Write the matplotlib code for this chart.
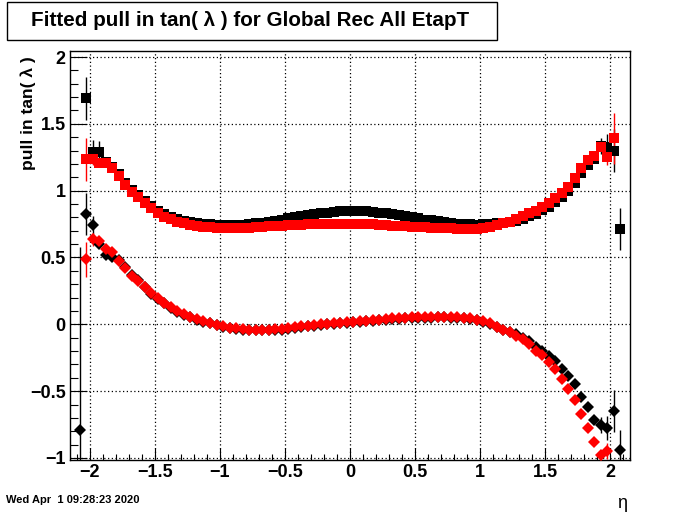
import numpy as np
import matplotlib
matplotlib.use('Agg')
from matplotlib import pyplot as plt
from matplotlib.patches import Rectangle
from matplotlib.ticker import MultipleLocator, FuncFormatter

plt.rcParams['font.family'] = ['Liberation Sans', 'DejaVu Sans']

nan = float('nan')

# 84 eta bins of width 0.05 between -2.1 and 2.1
eta_edges = np.linspace(-2.1, 2.1, 85)
eta = 0.5 * (eta_edges[1:] + eta_edges[:-1])

# upper band : black squares / red squares
sq_black = [nan, 1.69, 1.29, 1.29, 1.215, 1.178, 1.125, 1.06, 1.003, 0.966,
            0.921, 0.884, 0.848, 0.823, 0.803, 0.786, 0.775, 0.764, 0.758, 0.752,
            0.748, 0.745, 0.743, 0.743, 0.744, 0.746, 0.750, 0.755, 0.761, 0.768,
            0.776, 0.784, 0.792, 0.800, 0.808, 0.816, 0.823, 0.830, 0.836, 0.841,
            0.845, 0.848, 0.849, 0.848, 0.846, 0.842, 0.836, 0.830, 0.823, 0.816,
            0.808, 0.800, 0.792, 0.784, 0.777, 0.770, 0.763, 0.757, 0.752, 0.749,
            0.747, 0.746, 0.748, 0.752, 0.756, 0.760, 0.767, 0.775, 0.790, 0.808,
            0.828, 0.852, 0.880, 0.915, 0.952, 1.000, 1.060, 1.130, 1.195, 1.235,
            1.333, 1.326, 1.30, 0.713]
sq_red = [nan, 1.234, 1.234, 1.204, 1.204, 1.167, 1.109, 1.042, 0.987, 0.950,
          0.905, 0.868, 0.830, 0.805, 0.785, 0.767, 0.755, 0.743, 0.738, 0.730,
          0.727, 0.724, 0.722, 0.721, 0.721, 0.722, 0.724, 0.726, 0.729, 0.732,
          0.735, 0.738, 0.741, 0.743, 0.745, 0.747, 0.749, 0.751, 0.752, 0.753,
          0.754, 0.754, 0.753, 0.752, 0.750, 0.748, 0.745, 0.742, 0.739, 0.736,
          0.734, 0.731, 0.728, 0.726, 0.724, 0.722, 0.720, 0.718, 0.716, 0.715,
          0.715, 0.716, 0.718, 0.730, 0.743, 0.755, 0.767, 0.788, 0.810, 0.830,
          0.850, 0.875, 0.905, 0.942, 0.980, 1.029, 1.092, 1.167, 1.229, 1.261,
          1.328, 1.249, 1.391, nan]

# lower band : black diamonds / red diamonds
dm_black = [-0.79, 0.825, 0.743, 0.60, 0.522, 0.50, 0.478, 0.43, 0.368, 0.328,
            0.278, 0.230, 0.191, 0.157, 0.122, 0.094, 0.070, 0.052, 0.032, 0.020,
            0.007, -0.008, -0.020, -0.029, -0.036, -0.041, -0.044, -0.046, -0.046, -0.045,
            -0.043, -0.039, -0.033, -0.027, -0.021, -0.015, -0.010, -0.005, -0.001, 0.003,
            0.007, 0.011, 0.015, 0.019, 0.023, 0.027, 0.031, 0.035, 0.039, 0.042,
            0.045, 0.047, 0.049, 0.050, 0.051, 0.052, 0.052, 0.051, 0.049, 0.045,
            0.039, 0.031, 0.019, 0.002, -0.022, -0.04, -0.058, -0.075, -0.10, -0.122,
            -0.167, -0.20, -0.237, -0.274, -0.332, -0.387, -0.446, -0.541, -0.616, -0.716,
            -0.753, -0.778, -0.648, -0.94]
dm_red = [nan, 0.486, 0.636, 0.625, 0.563, 0.538, 0.476, 0.421, 0.361, 0.324,
          0.277, 0.232, 0.194, 0.162, 0.127, 0.099, 0.075, 0.057, 0.037, 0.025,
          0.012, -0.003, -0.015, -0.024, -0.031, -0.036, -0.039, -0.041, -0.041, -0.040,
          -0.038, -0.034, -0.028, -0.022, -0.016, -0.010, -0.005, 0.000, 0.004, 0.008,
          0.012, 0.016, 0.020, 0.024, 0.028, 0.032, 0.036, 0.040, 0.044, 0.047,
          0.050, 0.052, 0.054, 0.055, 0.056, 0.057, 0.057, 0.056, 0.054, 0.050,
          0.044, 0.036, 0.024, 0.007, -0.020, -0.043, -0.060, -0.087, -0.110, -0.150,
          -0.197, -0.232, -0.284, -0.337, -0.411, -0.486, -0.566, -0.673, -0.773, -0.883,
          -0.978, -0.945, nan, nan]

# visible error bars (bin index, half length)
sq_black_err_idx = [1, 2, 3, 80, 81, 82, 83]
sq_black_err = [0.16, 0.09, 0.08, 0.06, 0.10, 0.16, 0.16]
sq_red_err_idx = [1, 2, 81, 82]
sq_red_err = [0.16, 0.04, 0.056, 0.19]
dm_black_err_idx = [0, 1, 2, 80, 81, 82, 83]
dm_black_err = [1.37, 0.16, 0.07, 0.06, 0.09, 0.16, 0.15]
dm_red_err_idx = [1, 2, 81]
dm_red_err = [0.13, 0.05, 0.06]

title = u'Fitted pull in tan( \u03bb ) for Global Rec All EtapT'
ytitle = u'pull in tan( \u03bb )'
xtitle = u'\u03b7'
datestamp = 'Wed Apr  1 09:28:23 2020'

fig = plt.figure(figsize=(7, 5.12), dpi=100)
ax = fig.add_axes([0.1, 0.1016, 0.8, 0.7988])

def draw(vals, idx, errs, color, marker, ms):
    vals = np.array(vals, dtype=float)
    ax.errorbar(eta[idx], vals[idx], yerr=errs, fmt='none', ecolor=color,
                elinewidth=1.0, capsize=0, zorder=3)
    ax.plot(eta, vals, linestyle='none', marker=marker, color=color,
            markersize=ms, markeredgewidth=0, zorder=4)

draw(sq_black, sq_black_err_idx, sq_black_err, 'black', 's', 6.6)
draw(dm_black, dm_black_err_idx, dm_black_err, 'black', 'D', 6.2)
draw(sq_red, sq_red_err_idx, sq_red_err, 'red', 's', 6.6)
draw(dm_red, dm_red_err_idx, dm_red_err, 'red', 'D', 6.2)

def fmt(v, pos):
    s = '%g' % round(v, 3)
    return s.replace('-', u'\u2212')

ax.set_xlim(-2.15, 2.15)
ax.set_ylim(-1.015, 2.045)
ax.xaxis.set_major_locator(MultipleLocator(0.5))
ax.xaxis.set_minor_locator(MultipleLocator(0.1))
ax.yaxis.set_major_locator(MultipleLocator(0.5))
ax.yaxis.set_minor_locator(MultipleLocator(0.1))
ax.xaxis.set_major_formatter(FuncFormatter(fmt))
ax.yaxis.set_major_formatter(FuncFormatter(fmt))
ax.grid(True, which='major', color='black', linestyle=(0, (1, 2)), linewidth=0.9)
ax.tick_params(axis='both', which='both', direction='in', top=False, right=False)
ax.tick_params(axis='x', which='major', length=8.6, width=0.8, pad=3)
ax.tick_params(axis='x', which='minor', length=4.3, width=0.8)
ax.tick_params(axis='y', which='major', length=12, width=0.8, pad=3)
ax.tick_params(axis='y', which='minor', length=6, width=0.8)
for lab in ax.get_xticklabels() + ax.get_yticklabels():
    lab.set_fontsize(13)
    lab.set_fontweight('bold')
for sp in ax.spines.values():
    sp.set_linewidth(1.0)

# title box
fig.patches.append(Rectangle((7 / 700., 1 - 40 / 512.), 490 / 700., 38 / 512.,
                             transform=fig.transFigure, facecolor='white',
                             edgecolor='black', linewidth=1.0))
fig.text(250 / 700., 1 - 21 / 512., title, ha='center', va='center',
         fontsize=14.9, fontweight='bold')
fig.text(28 / 700., 1 - 56 / 512., ytitle, ha='center', va='top', rotation=90,
         fontsize=12.5, fontweight='bold')
fig.text(622 / 700., 1 - 503 / 512., xtitle, ha='center', va='center', fontsize=13)
fig.text(6 / 700., 1 - 500 / 512., datestamp, ha='left', va='center',
         fontsize=8, fontweight='bold')

fig.savefig('out.png', dpi=100)
